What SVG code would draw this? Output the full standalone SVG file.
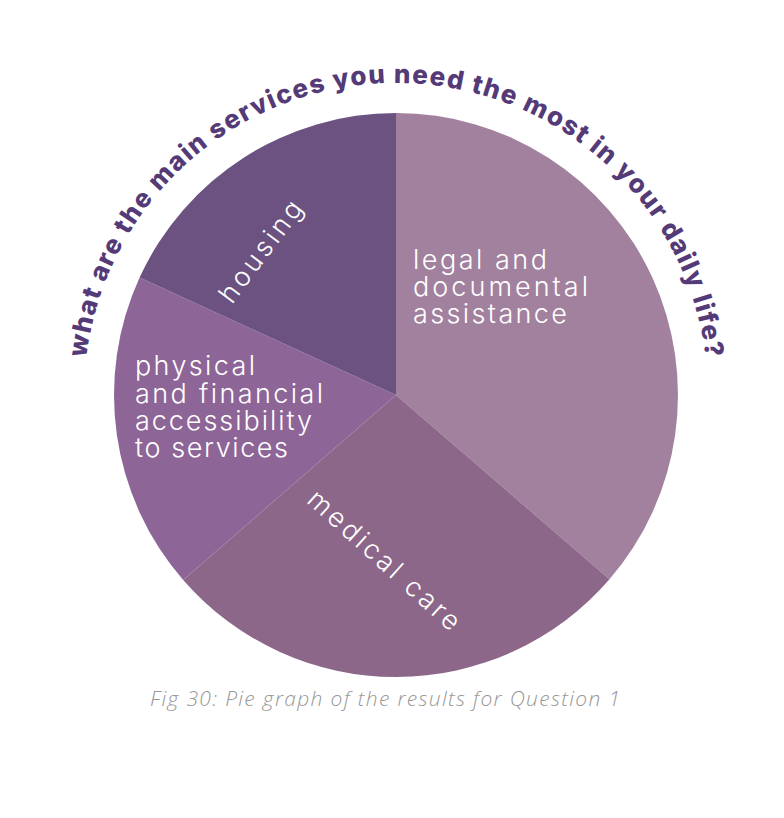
<svg xmlns="http://www.w3.org/2000/svg" width="784" height="818" viewBox="0 0 784 818">
<defs>
<style>
.lbl{font-family:Inter,"Noto Sans",sans-serif;font-weight:300;font-size:27px;fill:#ffffff}
.title{font-family:Inter,"Noto Sans",sans-serif;font-weight:800;font-size:26px;fill:#553a78}
.cap{font-family:"Open Sans","Noto Sans",sans-serif;font-style:italic;font-weight:300;font-size:21px;fill:#979797}
</style>
<path id="titleArc" d="M 84 395 A 312 312 0 0 1 708 395"/>
</defs>
<rect width="784" height="818" fill="#ffffff"/>
<g id="slice-legal">
<path d="M396,395 L396,113 A282,282 0 0 1 609.5,579.2 Z" fill="#a2819e"/>
<text class="lbl" x="413" y="269" textLength="134">legal and</text>
<text class="lbl" x="413" y="296" textLength="175">documental</text>
<text class="lbl" x="413" y="323" textLength="154">assistance</text>
</g>
<g id="slice-medical">
<path d="M396,395 L609.5,579.2 A282,282 0 0 1 183.2,580 Z" fill="#8c6789"/>
<text class="lbl" text-anchor="middle" transform="translate(378,567) rotate(42)" textLength="195">medical care</text>
</g>
<g id="slice-physical">
<path d="M396,395 L183.2,580 A282,282 0 0 1 139.6,277.6 Z" fill="#8e6597"/>
<text class="lbl" x="135" y="375" textLength="120">physical</text>
<text class="lbl" x="135" y="403" textLength="188">and financial</text>
<text class="lbl" x="135" y="430" textLength="177">accessibility</text>
<text class="lbl" x="135" y="457" textLength="153">to services</text>
</g>
<g id="slice-housing">
<path d="M396,395 L139.6,277.6 A282,282 0 0 1 396,113 Z" fill="#6b5280"/>
<text class="lbl" text-anchor="middle" transform="translate(268,257) rotate(-53)" textLength="120">housing</text>
</g>
<g id="title">
<text class="title" text-anchor="middle"><textPath href="#titleArc" startOffset="50%" textLength="905">what are the main services you need the most in your daily life?</textPath></text>
</g>
<g id="caption">
<text class="cap" x="150" y="706" textLength="470">Fig 30: Pie graph of the results for Question 1</text>
</g>
</svg>
